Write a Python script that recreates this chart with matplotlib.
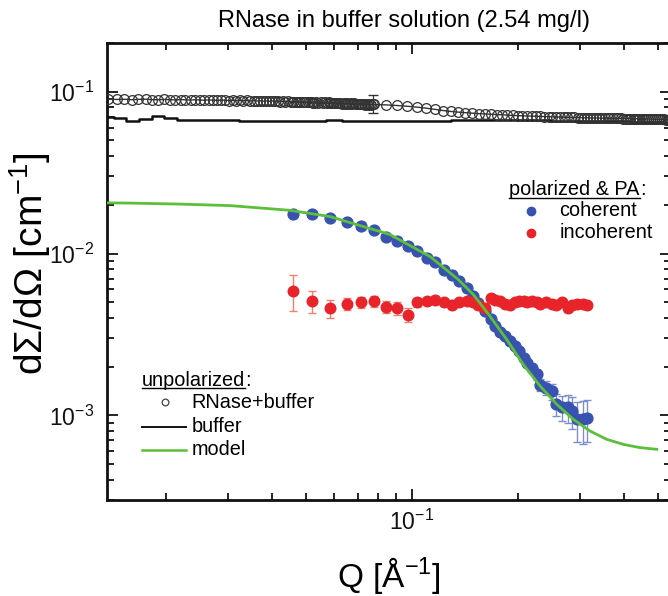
import matplotlib
matplotlib.use('Agg')
import matplotlib.pyplot as plt
from matplotlib.lines import Line2D
from matplotlib.ticker import NullFormatter

# ---------------- data ----------------
# unpolarized RNase+buffer, low-Q detector setting
Q_A = [0.0137, 0.0145, 0.0152, 0.0160, 0.0167, 0.0175, 0.0182, 0.0190, 0.0197, 0.0205,
       0.0212, 0.0220, 0.0227, 0.0235, 0.0242, 0.0250, 0.0257, 0.0265, 0.0272, 0.0280,
       0.0287, 0.0295, 0.0302, 0.0310, 0.0317, 0.0325, 0.0332, 0.0340, 0.0347, 0.0355,
       0.0362, 0.0370, 0.0377, 0.0385, 0.0392, 0.0400, 0.0407, 0.0415, 0.0422, 0.0430,
       0.0437, 0.0445, 0.0452, 0.0460, 0.0467, 0.0475, 0.0482, 0.0490, 0.0497, 0.0505,
       0.0512, 0.0520, 0.0527, 0.0535, 0.0542, 0.0550, 0.0557, 0.0565, 0.0572, 0.0580,
       0.0587, 0.0595, 0.0602, 0.0610, 0.0617, 0.0625, 0.0632, 0.0640, 0.0647, 0.0655,
       0.0662, 0.0670, 0.0677, 0.0685, 0.0692, 0.0700, 0.0707, 0.0715, 0.0722, 0.0730,
       0.0737, 0.0745, 0.0752, 0.0760, 0.0767, 0.0775]
I_A = [0.0900, 0.0896, 0.0898, 0.0893, 0.0897, 0.0899, 0.0894, 0.0892, 0.0896, 0.0893,
       0.0890, 0.0894, 0.0891, 0.0888, 0.0892, 0.0889, 0.0886, 0.0890, 0.0887, 0.0884,
       0.0888, 0.0885, 0.0882, 0.0886, 0.0880, 0.0884, 0.0879, 0.0883, 0.0877, 0.0881,
       0.0876, 0.0880, 0.0874, 0.0878, 0.0872, 0.0877, 0.0871, 0.0875, 0.0869, 0.0873,
       0.0867, 0.0872, 0.0866, 0.0870, 0.0864, 0.0869, 0.0862, 0.0867, 0.0860, 0.0866,
       0.0858, 0.0864, 0.0856, 0.0862, 0.0855, 0.0861, 0.0853, 0.0859, 0.0851, 0.0858,
       0.0850, 0.0856, 0.0848, 0.0855, 0.0846, 0.0853, 0.0845, 0.0851, 0.0843, 0.0850,
       0.0841, 0.0848, 0.0840, 0.0847, 0.0838, 0.0845, 0.0836, 0.0844, 0.0835, 0.0842,
       0.0833, 0.0840, 0.0832, 0.0839, 0.0830, 0.0845]
# unpolarized RNase+buffer, high-Q detector setting
Q_B = [0.0458, 0.0522, 0.0586, 0.0650, 0.0714, 0.0778, 0.0842, 0.0906, 0.0970, 0.1034,
       0.1098, 0.1162, 0.1226, 0.1290, 0.1354, 0.1418, 0.1482, 0.1546, 0.1610, 0.1674,
       0.1738, 0.1802, 0.1866, 0.1930, 0.1994, 0.2058, 0.2122, 0.2186, 0.2250, 0.2314,
       0.2378, 0.2442, 0.2506, 0.2570, 0.2634, 0.2698, 0.2762, 0.2826, 0.2890, 0.2954,
       0.3018, 0.3082, 0.3146, 0.3210, 0.3274, 0.3338, 0.3402, 0.3466, 0.3530, 0.3594,
       0.3658, 0.3722, 0.3786, 0.3850, 0.3914, 0.3978, 0.4042, 0.4106, 0.4170, 0.4234,
       0.4298, 0.4362, 0.4426, 0.4490, 0.4554, 0.4618, 0.4682, 0.4746, 0.4810, 0.4874,
       0.4938, 0.5002, 0.5066, 0.5130, 0.5194, 0.5258, 0.5322, 0.5386, 0.5450]
I_B = [0.0858, 0.0852, 0.0849, 0.0842, 0.0838, 0.0834, 0.0829, 0.0822, 0.0813, 0.0803,
       0.0791, 0.0778, 0.0765, 0.0755, 0.0748, 0.0742, 0.0737, 0.0732, 0.0729, 0.0726,
       0.0723, 0.0720, 0.0717, 0.0714, 0.0712, 0.0710, 0.0708, 0.0707, 0.0705, 0.0704,
       0.0702, 0.0701, 0.0700, 0.0698, 0.0697, 0.0696, 0.0695, 0.0694, 0.0693, 0.0692,
       0.0691, 0.0690, 0.0690, 0.0689, 0.0689, 0.0688, 0.0688, 0.0687, 0.0687, 0.0686,
       0.0686, 0.0685, 0.0685, 0.0684, 0.0684, 0.0683, 0.0683, 0.0682, 0.0682, 0.0681,
       0.0681, 0.0680, 0.0680, 0.0679, 0.0679, 0.0678, 0.0678, 0.0677, 0.0677, 0.0676,
       0.0676, 0.0675, 0.0675, 0.0674, 0.0674, 0.0673, 0.0673, 0.0672, 0.0672]
Q_ERR_PT = [0.0775]
I_ERR_PT = [0.0845]
E_ERR_PT = [0.011]

# unpolarized buffer
Q_buf = [0.0136, 0.0148, 0.0161, 0.0174, 0.0190, 0.0205, 0.0226, 0.0250, 0.0275, 0.0304,
         0.0340, 0.0387, 0.0430, 0.0481, 0.0540, 0.0596, 0.0670, 0.0745, 0.0830, 0.0924,
         0.1050, 0.1201, 0.1380, 0.1560, 0.1780, 0.2026, 0.2320, 0.2633, 0.3000, 0.3420,
         0.3900, 0.4443, 0.5000, 0.5440]
I_buf = [0.0694, 0.0691, 0.0656, 0.0681, 0.0704, 0.0686, 0.0667, 0.0672, 0.0670, 0.0667,
         0.0662, 0.0656, 0.0660, 0.0657, 0.0663, 0.0665, 0.0660, 0.0657, 0.0655, 0.0656,
         0.0659, 0.0662, 0.0665, 0.0667, 0.0668, 0.0667, 0.0664, 0.0662, 0.0660, 0.0657,
         0.0655, 0.0653, 0.0648, 0.0643]

# polarized & PA
Q_pol = [0.0458, 0.0521, 0.0585, 0.0655, 0.0716, 0.0781, 0.0844, 0.0908, 0.0972, 0.1031,
         0.1101, 0.1165, 0.1233, 0.1297, 0.1363, 0.1430, 0.1487, 0.1543, 0.1612, 0.1673,
         0.1721, 0.1778, 0.1837, 0.1898, 0.1961, 0.2018, 0.2080, 0.2126, 0.2188, 0.2261,
         0.2310, 0.2403, 0.2494, 0.2565, 0.2663, 0.2780, 0.2842, 0.2937, 0.3067, 0.3136]
I_coh = [0.01766, 0.01750, 0.01662, 0.01561, 0.01474, 0.01392, 0.01260, 0.01203, 0.01120, 0.01033,
         0.00941, 0.00884, 0.00796, 0.00742, 0.00675, 0.00614, 0.00550, 0.00496, 0.00440, 0.00395,
         0.00356, 0.00327, 0.00309, 0.00287, 0.00268, 0.00249, 0.00227, 0.00211, 0.00197, 0.00179,
         0.00155, 0.00148, 0.00141, 0.00117, 0.00112, 0.00112, 0.00106, 0.000945, 0.000945, 0.000968]
err_coh = [0.0003, 0.0003, 0.0003, 0.0003, 0.0003, 0.0003, 0.0002, 0.0002, 0.0002, 0.0002,
           0.00015, 0.00015, 0.00015, 0.00012, 0.00012, 0.00012, 0.0001, 0.0001, 0.0001, 0.0001,
           0.0001, 0.0001, 0.0001, 0.0001, 0.0001, 0.0001, 0.00011, 0.00012, 0.00012, 0.00013,
           0.00014, 0.00015, 0.00016, 0.00018, 0.0002, 0.00022, 0.00024, 0.00026, 0.00028, 0.00028]
I_inc = [0.0059, 0.0051, 0.0046, 0.0049, 0.0050, 0.0051, 0.0047, 0.0046, 0.0042, 0.0050,
         0.0051, 0.0052, 0.0050, 0.0048, 0.0050, 0.0051, 0.0050, 0.0048, 0.0046, 0.0053,
         0.0052, 0.0051, 0.0049, 0.0048, 0.0050, 0.0051, 0.0051, 0.0050, 0.0051, 0.0050,
         0.0049, 0.0050, 0.0049, 0.0048, 0.0050, 0.0046, 0.0048, 0.0049, 0.0049, 0.0048]
err_inc = [0.0015, 0.0008, 0.0006, 0.00045, 0.0004, 0.0004, 0.0004, 0.0004, 0.0004, 0.0003,
           0.00025, 0.00025, 0.00025, 0.00025, 0.00025, 0.00025, 0.00025, 0.00025, 0.00025, 0.00025,
           0.00025, 0.00025, 0.00025, 0.00025, 0.00025, 0.00025, 0.00025, 0.00025, 0.00025, 0.00025,
           0.00025, 0.00025, 0.00025, 0.00025, 0.00025, 0.00025, 0.00025, 0.00025, 0.00025, 0.00025]

# model curve
Q_model = [0.01360, 0.01581, 0.02193, 0.03041, 0.04500, 0.05848, 0.08660, 0.1125, 0.1353, 0.1493,
           0.1665, 0.1858, 0.2071, 0.2310, 0.2577, 0.2872, 0.3204, 0.3573, 0.3984, 0.4443, 0.4956]
I_model = [0.02056, 0.02050, 0.02021, 0.01978, 0.01850, 0.01692, 0.01310, 0.00958, 0.00691, 0.00558,
           0.00410, 0.00294, 0.00206, 0.00152, 0.00117, 0.000945, 0.000800, 0.000711, 0.000662, 0.000632, 0.000617]

TITLE = "RNase in buffer solution (2.54 mg/l)"
XLABEL = "Q [Å$^{-1}$]"
YLABEL = "dΣ/dΩ [cm$^{-1}$]"

# ---------------- style ----------------
plt.rcParams.update({
    'font.family': ['Liberation Sans', 'DejaVu Sans'],
    'mathtext.fontset': 'custom',
    'mathtext.rm': 'Liberation Sans',
    'mathtext.it': 'Liberation Sans:italic',
    'mathtext.bf': 'Liberation Sans:bold',
    'mathtext.default': 'regular',
    'axes.unicode_minus': False,
})

W, H = 668, 596
fig = plt.figure(figsize=(W / 100, H / 100), dpi=100)
ax = fig.add_axes([107 / W, (H - 500) / H, (671 - 107) / W, (500 - 43) / H])

C_BLUE = '#3852b0'
C_BLUE_E = '#7d8ed0'
C_RED = '#e8232a'
C_RED_E = '#f0806e'
C_GREEN = '#5cbf3a'

nA = min(len(Q_A), len(I_A))
ax.plot(Q_A[:nA], I_A[:nA], '-o', color='#333333', mfc='none', ms=7.0, mew=0.9, lw=1.0, zorder=3)
nB = min(len(Q_B), len(I_B))
ax.plot(Q_B[:nB], I_B[:nB], '-o', color='#333333', mfc='none', ms=7.0, mew=0.9, lw=1.0, zorder=3)
ax.errorbar(Q_ERR_PT, I_ERR_PT, yerr=E_ERR_PT, fmt='none', ecolor='#333333',
            elinewidth=0.9, capsize=3.5, zorder=3)
ax.plot(Q_buf, I_buf, color='#111111', lw=1.8, drawstyle='steps-mid', zorder=2)

ax.errorbar(Q_pol, I_coh, yerr=err_coh, fmt='o', color=C_BLUE, mec=C_BLUE, ms=7.8,
            ecolor=C_BLUE_E, elinewidth=1.0, capsize=3, zorder=4)
ax.errorbar(Q_pol, I_inc, yerr=err_inc, fmt='o', color=C_RED, mec=C_RED, ms=7.6,
            ecolor=C_RED_E, elinewidth=1.0, capsize=3, zorder=5)
ax.plot(Q_model, I_model, color=C_GREEN, lw=2.0, zorder=6)

ax.set_xscale('log')
ax.set_yscale('log')
ax.set_xlim(0.0136, 0.544)
ax.set_ylim(3e-4, 0.2)
ax.xaxis.set_minor_formatter(NullFormatter())
ax.yaxis.set_minor_formatter(NullFormatter())
ax.tick_params(which='both', direction='in', top=True, right=True, width=1.3, colors='#111111')
ax.tick_params(which='major', length=8, labelsize=16.5)
ax.tick_params(which='minor', length=5)
ax.tick_params(axis='y', which='major', pad=9)
ax.tick_params(axis='x', which='major', pad=7)
for sp in ax.spines.values():
    sp.set_linewidth(2.0)
    sp.set_color('#111111')


def fx(px):
    return px / W


def fy(py):
    return 1 - py / H


fig.text(fx(404), fy(21), TITLE, fontsize=17, ha='center', va='center')
fig.text(fx(389), fy(575), XLABEL, fontsize=24, ha='center', va='center')
fig.text(fx(30), fy(264), YLABEL, fontsize=28, ha='center', va='center', rotation=90)

LEG_FS = 14.3
renderer = fig.canvas.get_renderer()


def underlined(x, y, word, tail):
    t = fig.text(fx(x), fy(y), word, fontsize=LEG_FS, ha='left', va='center')
    bb = t.get_window_extent(renderer=renderer)
    fig.text(bb.x1 / W, fy(y), tail, fontsize=LEG_FS, ha='left', va='center')
    uy = fy(y + 7.5)
    fig.add_artist(Line2D([bb.x0 / W, bb.x1 / W], [uy, uy], color='black', lw=1.0,
                          transform=fig.transFigure))


# legend 1 (unpolarized)
underlined(141.7, 380, 'unpolarized', ':')
fig.add_artist(Line2D([fx(165)], [fy(402)], marker='o', mfc='none', mec='#444444', ms=4.8,
                      mew=0.9, transform=fig.transFigure))
fig.text(fx(191.7), fy(402), 'RNase+buffer', fontsize=LEG_FS, ha='left', va='center')
fig.add_artist(Line2D([fx(141.7), fx(186)], [fy(426.5), fy(426.5)], color='#111111', lw=1.4,
                      transform=fig.transFigure))
fig.text(fx(191.7), fy(426.5), 'buffer', fontsize=LEG_FS, ha='left', va='center')
fig.add_artist(Line2D([fx(141.7), fx(186)], [fy(449.5), fy(449.5)], color=C_GREEN, lw=1.8,
                      transform=fig.transFigure))
fig.text(fx(191.7), fy(449.5), 'model', fontsize=LEG_FS, ha='left', va='center')

# legend 2 (polarized & PA)
underlined(509.3, 190, 'polarized & PA', ':')
fig.add_artist(Line2D([fx(530.7)], [fy(210.5)], marker='o', color=C_BLUE, ms=6.0,
                      transform=fig.transFigure))
fig.text(fx(559.3), fy(210.5), 'coherent', fontsize=LEG_FS, ha='left', va='center')
fig.add_artist(Line2D([fx(530.7)], [fy(232.5)], marker='o', color=C_RED, ms=6.0,
                      transform=fig.transFigure))
fig.text(fx(559.3), fy(232.5), 'incoherent', fontsize=LEG_FS, ha='left', va='center')

fig.savefig('out.png', dpi=100)
